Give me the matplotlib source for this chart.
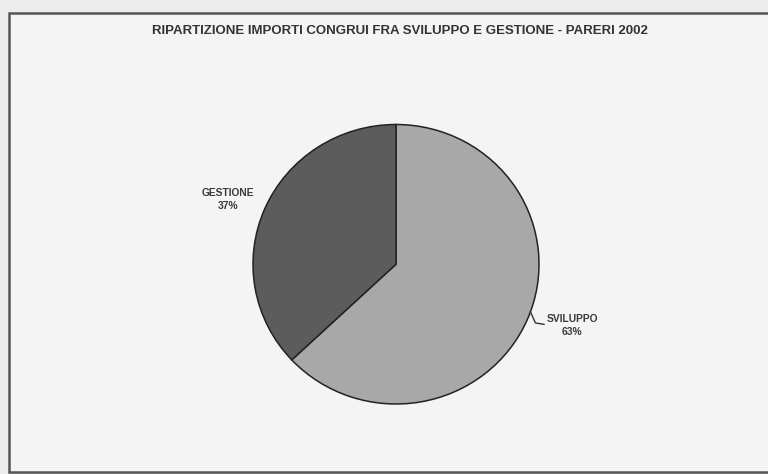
import matplotlib
matplotlib.use("Agg")
import matplotlib.pyplot as plt
from matplotlib.patches import Rectangle

plt.rcParams['font.family'] = ['Liberation Sans', 'DejaVu Sans']

title = "RIPARTIZIONE IMPORTI CONGRUI FRA SVILUPPO E GESTIONE - PARERI 2002"
categories = ["SVILUPPO", "GESTIONE"]
shares = [63, 37]
colors = ["#a8a8a8", "#5c5c5c"]

W, H = 768, 474
fig = plt.figure(figsize=(W / 100, H / 100), dpi=100, facecolor="#ececec")

# page frame
fig.patches.append(Rectangle((9 / W, (H - 472) / H), (W + 20) / W, (472 - 13) / H,
                             transform=fig.transFigure, facecolor="#f4f4f4",
                             edgecolor="#555555", linewidth=1.8, zorder=-5))

fig.text(400 / W, 1 - 31 / H, title, ha="center", va="center",
         fontsize=9.5, fontweight="bold", color="#333333")

# pie axes: box spans the circle exactly
left, right, top, bottom = 253, 539, 124.5, 404
ax = fig.add_axes([left / W, (H - bottom) / H, (right - left) / W, (bottom - top) / H])
ax.set_zorder(2)
ax.pie(shares, colors=colors, startangle=90, counterclock=False,
       wedgeprops=dict(edgecolor="#222222", linewidth=1.1))
ax.set_aspect("auto")
ax.set_xlim(-1, 1)
ax.set_ylim(-1, 1)
ax.axis("off")

label_pos = {"GESTIONE": (-1.175, 0.465), "SVILUPPO": (1.232, -0.44)}
for name, val in zip(categories, shares):
    x, y = label_pos[name]
    ax.text(x, y, f"{name}\n{val}%", ha="center", va="center", fontsize=7.4,
            fontweight="bold", color="#3a3a3a", linespacing=1.35, clip_on=False)

# leader line to SVILUPPO label
ax.plot([0.94, 0.975, 1.035], [-0.34, -0.42, -0.43], color="#333333",
        linewidth=1.0, clip_on=False)

fig.savefig("out.png", dpi=100, facecolor=fig.get_facecolor())
